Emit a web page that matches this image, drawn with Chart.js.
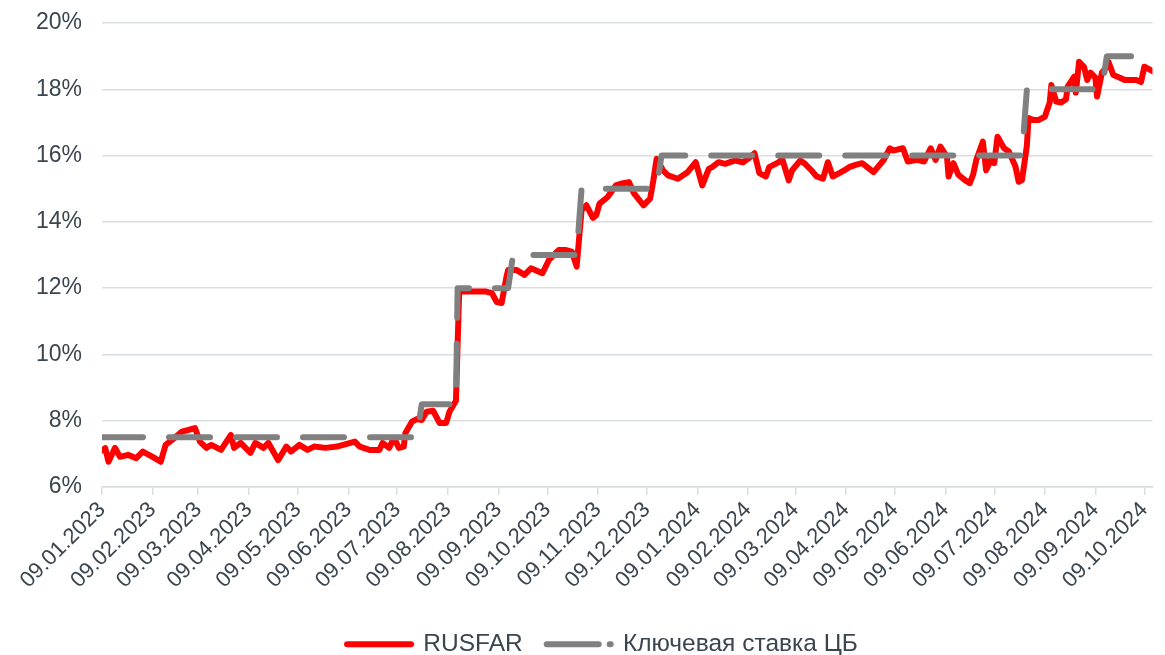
<!DOCTYPE html>
<html>
<head>
<meta charset="utf-8">
<script src="https://cdn.jsdelivr.net/npm/chart.js@4.4.1/dist/chart.umd.min.js"></script>
<style>
html, body { margin: 0; padding: 0; background: #fff; }
#wrap { width: 1165px; height: 655px; position: relative; }
</style>
</head>
<body>
<div id="wrap"><canvas id="myChart"></canvas></div>
<script>
// RUSFAR, %
const rusfarDates = [
    '09.01.2023', '11.01.2023', '13.01.2023', '17.01.2023', '20.01.2023', '25.01.2023', '30.01.2023',
    '03.02.2023', '09.02.2023', '14.02.2023', '17.02.2023', '21.02.2023', '27.02.2023',
    '03.03.2023', '07.03.2023', '10.03.2023', '14.03.2023', '17.03.2023', '23.03.2023', '29.03.2023', '31.03.2023',
    '04.04.2023', '10.04.2023', '13.04.2023', '18.04.2023', '21.04.2023', '27.04.2023',
    '02.05.2023', '05.05.2023', '10.05.2023', '15.05.2023', '19.05.2023', '26.05.2023',
    '02.06.2023', '13.06.2023', '16.06.2023', '22.06.2023', '28.06.2023', '30.06.2023',
    '04.07.2023', '07.07.2023', '10.07.2023', '13.07.2023', '14.07.2023', '18.07.2023', '21.07.2023', '24.07.2023', '27.07.2023', '31.07.2023',
    '04.08.2023', '08.08.2023', '10.08.2023', '14.08.2023', '15.08.2023', '16.08.2023', '18.08.2023', '24.08.2023',
    '01.09.2023', '05.09.2023', '08.09.2023', '11.09.2023', '14.09.2023', '15.09.2023', '20.09.2023', '25.09.2023', '29.09.2023',
    '06.10.2023', '10.10.2023', '16.10.2023', '20.10.2023', '24.10.2023', '27.10.2023', '30.10.2023',
    '02.11.2023', '06.11.2023', '08.11.2023', '10.11.2023', '15.11.2023', '20.11.2023', '23.11.2023', '28.11.2023',
    '01.12.2023', '07.12.2023', '11.12.2023', '13.12.2023', '15.12.2023', '19.12.2023', '22.12.2023', '28.12.2023',
    '03.01.2024', '08.01.2024', '12.01.2024', '16.01.2024', '18.01.2024', '22.01.2024', '26.01.2024', '29.01.2024',
    '01.02.2024', '06.02.2024', '09.02.2024', '13.02.2024', '16.02.2024', '20.02.2024', '22.02.2024', '28.02.2024',
    '01.03.2024', '05.03.2024', '07.03.2024', '12.03.2024', '15.03.2024', '19.03.2024', '22.03.2024', '26.03.2024', '29.03.2024',
    '01.04.2024', '05.04.2024', '08.04.2024', '11.04.2024', '15.04.2024', '19.04.2024', '26.04.2024',
    '02.05.2024', '06.05.2024', '08.05.2024', '14.05.2024', '17.05.2024', '23.05.2024', '27.05.2024', '31.05.2024',
    '03.06.2024', '06.06.2024', '10.06.2024', '11.06.2024', '14.06.2024', '17.06.2024', '21.06.2024', '24.06.2024', '26.06.2024', '28.06.2024',
    '02.07.2024', '04.07.2024', '08.07.2024', '09.07.2024', '11.07.2024', '15.07.2024', '18.07.2024', '22.07.2024', '24.07.2024', '26.07.2024', '29.07.2024', '30.07.2024',
    '02.08.2024', '05.08.2024', '09.08.2024', '12.08.2024', '13.08.2024', '16.08.2024', '19.08.2024', '22.08.2024', '23.08.2024', '27.08.2024', '28.08.2024', '30.08.2024',
    '02.09.2024', '04.09.2024', '06.09.2024', '09.09.2024', '10.09.2024', '13.09.2024', '16.09.2024', '17.09.2024', '20.09.2024', '24.09.2024', '27.09.2024',
    '04.10.2024', '07.10.2024', '09.10.2024', '11.10.2024', '14.10.2024'
]
const rusfarValues = [
    7.10, 7.17, 6.76, 7.18, 6.91, 6.97, 6.87,
    7.07, 6.91, 6.76, 7.27, 7.42, 7.67,
    7.72, 7.78, 7.37, 7.18, 7.27, 7.12, 7.57, 7.18,
    7.33, 7.03, 7.33, 7.18, 7.33, 6.81,
    7.22, 7.07, 7.27, 7.12, 7.22, 7.18,
    7.22, 7.37, 7.22, 7.12, 7.12, 7.33,
    7.18, 7.48, 7.18, 7.22, 7.63, 7.97, 8.05, 8.02, 8.27, 8.30,
    7.93, 7.93, 8.27, 8.60, 10.30, 11.90, 11.90, 11.90,
    11.90, 11.85, 11.58, 11.55, 12.35, 12.55, 12.55, 12.40, 12.60,
    12.45, 12.85, 13.15, 13.15, 13.10, 12.65, 14.35,
    14.50, 14.12, 14.20, 14.55, 14.75, 15.10, 15.15, 15.20,
    14.87, 14.50, 14.70, 15.25, 15.90, 15.55, 15.40, 15.30,
    15.50, 15.80, 15.10, 15.60, 15.65, 15.80, 15.75, 15.80,
    15.85, 15.80, 15.90, 16.07, 15.47, 15.37, 15.65, 15.80,
    15.90, 15.25, 15.55, 15.85, 15.75, 15.55, 15.37, 15.30, 15.80,
    15.37, 15.47, 15.55, 15.65, 15.72, 15.77, 15.50,
    15.85, 16.22, 16.15, 16.22, 15.82, 15.87, 15.82, 16.22,
    15.87, 16.27, 15.97, 15.37, 15.77, 15.42, 15.26, 15.17, 15.42, 15.87,
    16.42, 15.56, 15.97, 15.77, 16.57, 16.22, 16.12, 15.67, 15.21, 15.26, 16.30, 17.13,
    17.07, 17.07, 17.17, 17.60, 18.13, 17.63, 17.60, 17.70, 18.08, 18.38, 17.90, 18.83,
    18.68, 18.28, 18.50, 18.35, 17.78, 18.50, 18.68, 18.83, 18.43, 18.35, 18.28,
    18.28, 18.22, 18.68, 18.63, 18.55
]

// Ключевая ставка ЦБ, % (points where the rate changes)
const keyRateDates = [
    '09.01.2023', '21.07.2023', '24.07.2023', '14.08.2023', '15.08.2023', '15.09.2023', '18.09.2023',
    '27.10.2023', '30.10.2023', '15.12.2023', '18.12.2023', '26.07.2024', '29.07.2024', '13.09.2024',
    '16.09.2024', '14.10.2024'
]
const keyRateValues = [7.5, 7.5, 8.5, 8.5, 12, 12, 13, 13, 15, 15, 16, 16, 18, 18, 19, 19]

const tickLabels = [
    '09.01.2023', '09.02.2023', '09.03.2023', '09.04.2023', '09.05.2023', '09.06.2023', '09.07.2023',
    '09.08.2023', '09.09.2023', '09.10.2023', '09.11.2023', '09.12.2023', '09.01.2024', '09.02.2024',
    '09.03.2024', '09.04.2024', '09.05.2024', '09.06.2024', '09.07.2024', '09.08.2024', '09.09.2024',
    '09.10.2024'
]
const axisStart = '09.01.2023'
const axisEnd = '14.10.2024'

const RED = '#ff0000'
const GRAY = '#808080'
const TEXT = '#3b4550'
const GRID = '#d9dee3'
const FONT = "'Liberation Sans', Arial, sans-serif"

// dd.mm.yyyy -> days since axisStart
const toUtc = (str) => {
    const [d, m, y] = str.split('.').map(Number)
    return Date.UTC(y, m - 1, d)
}
const toDay = (str) => (toUtc(str) - toUtc(axisStart)) / 86400000

const toPoints = (dates, values) => dates.map((d, i) => ({ x: toDay(d), y: values[i] }))

// legend box: fixed height, shifted a bit to the right
const legendTweak = {
    id: 'legendTweak',
    beforeLayout(chart) {
        const legend = chart.legend
        if (legend && !legend._wrapped) {
            const fit = legend.fit
            legend.fit = function () {
                fit.call(this)
                this.height = 47
            }
            legend._wrapped = true
        }
    },
    afterLayout(chart) {
        chart.legend.left += 20
        chart.legend.right += 20
    }
}

const ctx = document.getElementById('myChart')
new Chart(ctx, {
    type: 'line',
    data: {
        datasets: [{
            label: 'RUSFAR',
            data: toPoints(rusfarDates, rusfarValues),
            borderColor: RED,
            backgroundColor: RED,
            borderWidth: 6,
            borderJoinStyle: 'round',
            borderCapStyle: 'round',
            pointRadius: 0,
            tension: 0,
            order: 2,
        }, {
            label: 'Ключевая ставка ЦБ',
            data: toPoints(keyRateDates, keyRateValues),
            borderColor: GRAY,
            backgroundColor: GRAY,
            borderWidth: 6,
            borderDash: [41, 26],
            borderCapStyle: 'round',
            borderJoinStyle: 'round',
            pointRadius: 0,
            tension: 0,
            order: 1,
        }]
    },
    options: {
        responsive: true,
        maintainAspectRatio: false,
        animation: false,
        layout: { padding: { top: 23, right: 0, left: 0, bottom: 0 } },
        scales: {
            x: {
                type: 'linear',
                min: toDay(axisStart),
                max: toDay(axisEnd),
                afterBuildTicks: (scale) => {
                    scale.ticks = tickLabels.map(t => ({ value: toDay(t) }))
                },
                ticks: {
                    autoSkip: false,
                    minRotation: 45,
                    maxRotation: 45,
                    padding: 2,
                    color: TEXT,
                    font: { family: FONT, size: 22 },
                    callback: (value, index) => tickLabels[index],
                },
                grid: { drawOnChartArea: false, drawTicks: true, tickLength: 8, color: GRID, lineWidth: 1.5 },
                border: { display: true, color: GRID, width: 1.5 },
                afterFit: (scale) => { scale.height = 121 },
            },
            y: {
                min: 6,
                max: 20,
                ticks: {
                    stepSize: 2,
                    padding: 20,
                    color: TEXT,
                    font: { family: FONT, size: 23 },
                    callback: (value) => value + '%',
                },
                grid: { color: GRID, lineWidth: 1.5, drawTicks: false },
                border: { display: false },
                afterFit: (scale) => {
                    scale.width = 102
                    scale.paddingTop = 0
                    scale.paddingBottom = 0
                },
            }
        },
        plugins: {
            tooltip: { enabled: false },
            legend: {
                position: 'bottom',
                labels: {
                    usePointStyle: true,
                    pointStyleWidth: 64,
                    padding: 24,
                    color: TEXT,
                    font: { family: FONT, size: 24.5 },
                    generateLabels: () => [{
                        text: 'RUSFAR',
                        strokeStyle: RED,
                        fillStyle: RED,
                        lineWidth: 6,
                        lineCap: 'round',
                        lineDash: [],
                        pointStyle: 'line',
                        fontColor: TEXT,
                        datasetIndex: 0,
                    }, {
                        text: 'Ключевая ставка ЦБ',
                        strokeStyle: GRAY,
                        fillStyle: GRAY,
                        lineWidth: 6,
                        lineCap: 'round',
                        lineDash: [52, 11],
                        pointStyle: 'line',
                        fontColor: TEXT,
                        datasetIndex: 1,
                    }]
                }
            }
        }
    },
    plugins: [legendTweak]
});
</script>
</body>
</html>
